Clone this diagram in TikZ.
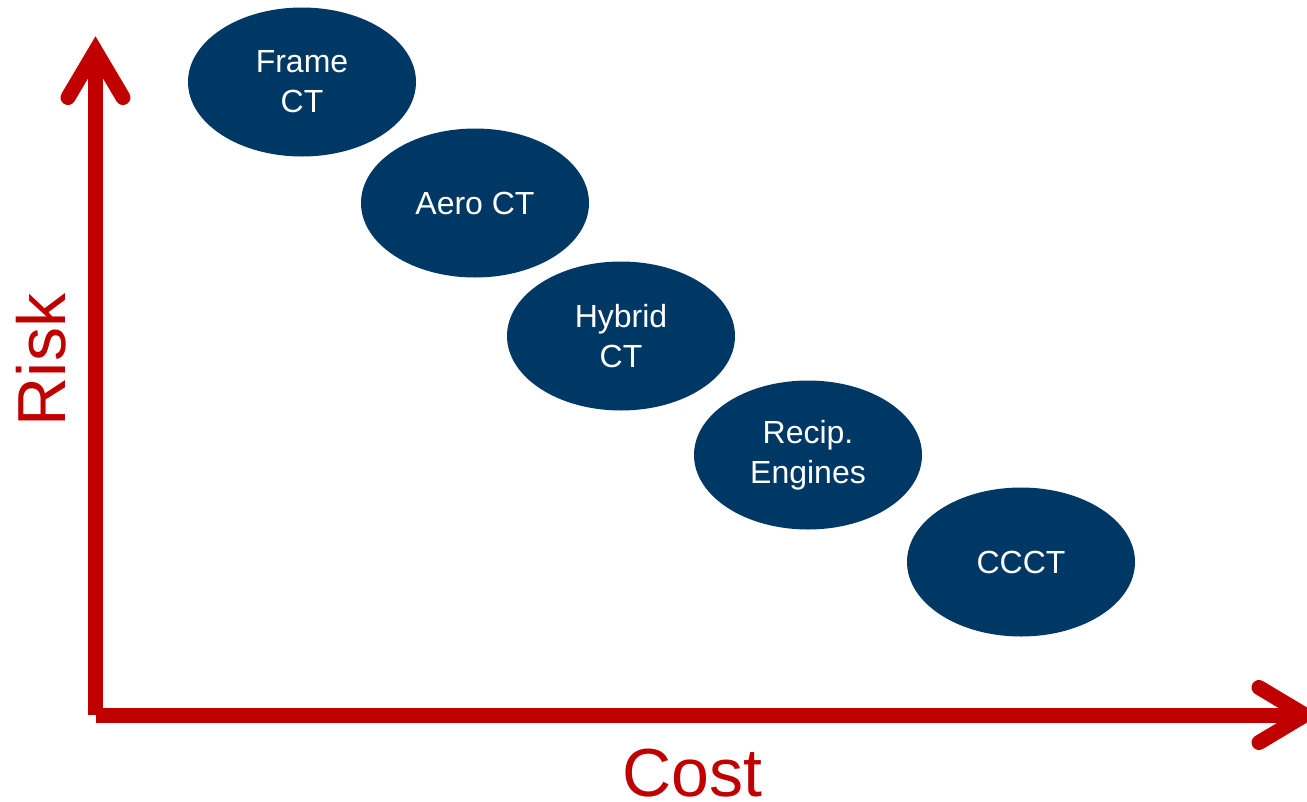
\documentclass[tikz,border=0pt]{standalone}
\usepackage{fontspec}
\setmainfont{Liberation Sans}
\usetikzlibrary{shapes.geometric}
\definecolor{axisred}{RGB}{192,0,0}
\definecolor{techblue}{RGB}{0,56,101}
\begin{document}
\begin{tikzpicture}[x=1pt,y=-1pt,
  tech/.style={ellipse, fill=techblue, text=white, minimum width=228pt, minimum height=149pt,
    inner sep=0pt, align=center, font=\fontsize{32}{40}\selectfont},
  axis/.style={draw=axisred, line width=15pt},
  head/.style={axis, line cap=round, line join=miter},
  axislabel/.style={text=axisred, font=\fontsize{68}{80}\selectfont, inner sep=0pt}]
\useasboundingbox (0,0) rectangle (1307,801);
% technology ellipses
\node[tech] (frame)  at (302,82)   {Frame\\CT};
\node[tech] (aero)   at (475,203)  {Aero CT};
\node[tech] (hybrid) at (621,336)  {Hybrid\\CT};
\node[tech] (recip)  at (808,455)  {Recip.\\Engines};
\node[tech] (ccct)   at (1021,562) {CCCT};
% axes
\coordinate (origin) at (95.5,715);
\coordinate (ytip)   at (95.5,51);
\coordinate (xstart) at (96,715);
\coordinate (xtip)   at (1305,715);
\coordinate (yl) at (68,97.5);
\coordinate (yr) at (123,97.5);
\coordinate (xu) at (1259,687.5);
\coordinate (xd) at (1259,742.5);
\draw[axis] (origin) -- (ytip);
\draw[axis] (xstart) -- (xtip);
\draw[head] (yl) -- (ytip) -- (yr);
\draw[head] (xu) -- (xtip) -- (xd);
% axis labels
\node[axislabel, rotate=90] (risk) at (41,360) {Risk};
\node[axislabel, anchor=base] (cost) at (692,796) {Cost};
\end{tikzpicture}
\end{document}
